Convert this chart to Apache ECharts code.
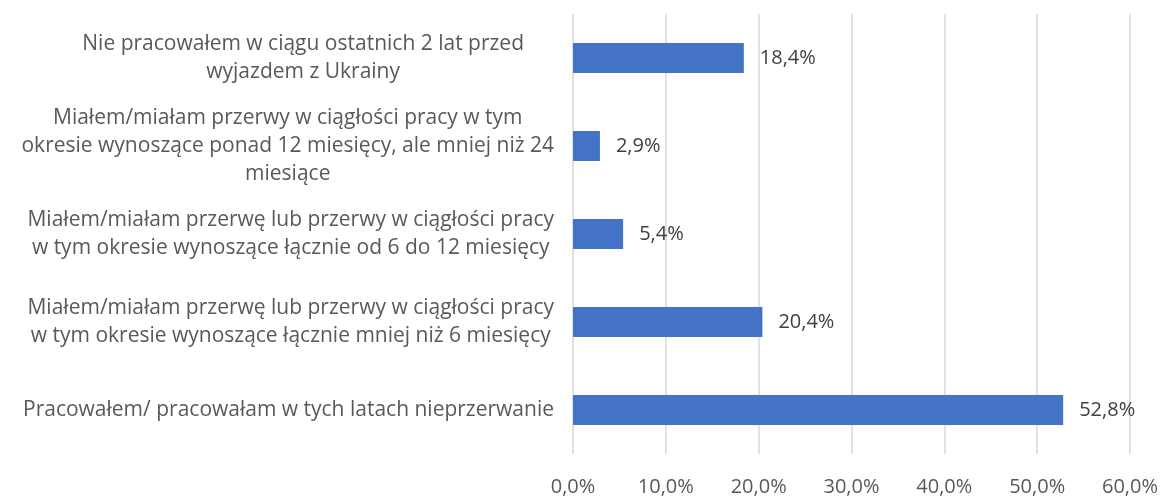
<!DOCTYPE html>
<html>
<head>
<meta charset="utf-8">
<script src="https://cdn.jsdelivr.net/npm/echarts@6/dist/echarts.min.js"></script>
<style>
  html, body { margin: 0; padding: 0; background: #fff; }
  #main { width: 1161px; height: 497px; }
</style>
</head>
<body>
<div id="main"></div>
<script>
// category labels, already wrapped the way the original shows them
var categories = [
  ['Nie pracowałem w ciągu ostatnich 2 lat przed', 'wyjazdem z Ukrainy'],
  ['Miałem/miałam przerwy w ciągłości pracy w tym', 'okresie wynoszące ponad 12 miesięcy, ale mniej niż 24', 'miesiące'],
  ['Miałem/miałam przerwę lub przerwy w ciągłości pracy', 'w tym okresie wynoszące łącznie od 6 do 12 miesięcy'],
  ['Miałem/miałam przerwę lub przerwy w ciągłości pracy', 'w tym okresie wynoszące łącznie mniej niż 6 miesięcy'],
  ['Pracowałem/ pracowałam w tych latach nieprzerwanie']
];
var values = [18.4, 2.9, 5.4, 20.4, 52.8];
var xTicks = [0, 10, 20, 30, 40, 50, 60];

function pct(v) {
  return v.toFixed(1).replace('.', ',') + '%';
}

var chartDom = document.getElementById('main');
var myChart = echarts.init(chartDom);
var font = '"Open Sans", Lato, sans-serif';

var option = {
  animation: false,
  grid: {
    left: 573,
    right: 30,
    top: 14,
    bottom: 42,
    containLabel: false
  },
  xAxis: {
    type: 'value',
    min: xTicks[0],
    max: xTicks[xTicks.length - 1],
    interval: 10,
    axisLine: { show: false },
    axisTick: { show: false },
    axisLabel: {
      margin: 23,
      color: '#595959',
      fontSize: 20,
      fontFamily: font,
      formatter: function (v) { return pct(v); }
    },
    splitLine: {
      lineStyle: { color: '#d9d9d9', width: 1.5 }
    }
  },
  yAxis: {
    type: 'category',
    inverse: true,
    data: categories.map(function (c, i) {
      var item = { value: c.join('\n') };
      // the first label sits a bit further from the axis in the original
      if (i === 0) item.textStyle = { padding: [0, 30, 0, 0] };
      return item;
    }),
    axisLine: { show: false },
    axisTick: { show: false },
    axisLabel: {
      margin: 19,
      formatter: function (v) {
        return v.split('\n').map(function (line) {
          return '{c|' + line + '}';
        }).join('\n');
      },
      rich: {
        c: {
          align: 'center',
          color: '#595959',
          fontSize: 21,
          lineHeight: 28,
          fontFamily: font
        }
      }
    }
  },
  series: [{
    type: 'bar',
    data: values,
    barWidth: 30,
    itemStyle: { color: '#4472c4' },
    label: {
      show: true,
      position: 'right',
      distance: 16,
      color: '#404040',
      fontSize: 20,
      fontFamily: font,
      formatter: function (p) { return pct(p.value); }
    }
  }]
};

myChart.setOption(option);
</script>
</body>
</html>
